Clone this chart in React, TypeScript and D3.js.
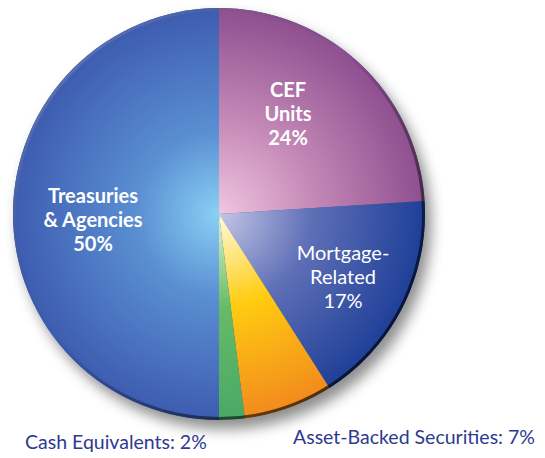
import React from 'react';
import * as d3 from 'd3';

const categories = ['CEF Units', 'Mortgage-Related', 'Asset-Backed Securities', 'Cash Equivalents', 'Treasuries & Agencies'];
const values = [24, 17, 7, 2, 50];
const innerLabels = [['CEF', 'Units', '24%'], ['Mortgage-', 'Related', '17%'], null, null, ['Treasuries', '& Agencies', '50%']];
const outerLabels = [null, null, 'Asset-Backed Securities: 7%', 'Cash Equivalents: 2%', null];
const gradStops = [
  ['#f0c6e0', '#c68ab8', '#8d4f8f'],
  ['#c4c6e6', '#5e6fb6', '#1e3f98'],
  ['#fffbe4', '#ffcc10', '#f28a1e'],
  ['#e4f4d0', '#66bb66', '#4aa866'],
  ['#8ad0f4', '#5a8fd2', '#3e5cb0'],
];

export default function App() {
  const width = 545;
  const height = 458;
  const cx = 219;
  const cy = 214;
  const r = 206;

  const pie = d3.pie<number>().sort(null).value((d) => d);
  const arcs = pie(values);
  const arc = d3.arc<d3.PieArcDatum<number>>().innerRadius(0).outerRadius(r);

  // label anchors (relative to centre)
  const labelPos: Record<number, [number, number]> = { 0: [69, -117], 1: [124, 46], 4: [-126, -11] };
  const outerPos: Record<number, [number, number, string]> = { 2: [293, 444, 'start'], 3: [25, 449, 'start'] };

  return (
    <svg width={width} height={height} style={{ position: 'absolute', left: 0, top: 0 }}>
      <defs>
        {gradStops.map((s, i) => (
          <radialGradient key={i} id={`g${i}`} gradientUnits="userSpaceOnUse" cx={0} cy={0} r={r}>
            <stop offset="0%" stopColor={s[0]} />
            <stop offset={i === 4 ? '40%' : '45%'} stopColor={s[1]} />
            <stop offset="100%" stopColor={s[2]} />
          </radialGradient>
        ))}
        <filter id="shadow" x="-20%" y="-20%" width="150%" height="150%">
          <feDropShadow dx="6" dy="9" stdDeviation="7" floodColor="#000" floodOpacity="0.45" />
        </filter>
        <linearGradient id="rim" x1="0" y1="0" x2="1" y2="1">
          <stop offset="0%" stopColor="#ffffff" stopOpacity="0.35" />
          <stop offset="45%" stopColor="#000" stopOpacity="0" />
          <stop offset="75%" stopColor="#000" stopOpacity="0.55" />
          <stop offset="100%" stopColor="#000" stopOpacity="0.85" />
        </linearGradient>
      </defs>
      <g transform={`translate(${cx},${cy})`}>
        <circle r={r} fill="#3e5cb0" filter="url(#shadow)" />
        {arcs.map((a, i) => (
          <path key={categories[i]} d={arc(a) || ''} fill={`url(#g${i})`} />
        ))}
        <circle r={r - 1.5} fill="none" stroke="url(#rim)" strokeWidth={3} />
        {arcs.map((a, i) => {
          const lines = innerLabels[i];
          if (!lines) return null;
          const [lx, ly] = labelPos[i];
          return (
            <text key={'l' + i} x={lx} y={ly} textAnchor="middle" fill="#fff"
              fontFamily="Lato, 'Open Sans', sans-serif" fontSize={20}
              fontWeight={i === 1 ? 400 : 700}>
              {lines.map((t, k) => (
                <tspan key={k} x={lx} dy={k === 0 ? 0 : 24}>{t}</tspan>
              ))}
            </text>
          );
        })}
      </g>
      {arcs.map((a, i) => {
        const t = outerLabels[i];
        if (!t) return null;
        const [x, y, anchor] = outerPos[i];
        return (
          <text key={'o' + i} x={x} y={y} textAnchor={anchor as any} fill="#2e3a90"
            fontFamily="Lato, 'Open Sans', sans-serif" fontSize={19.5}>
            {t}
          </text>
        );
      })}
    </svg>
  );
}
